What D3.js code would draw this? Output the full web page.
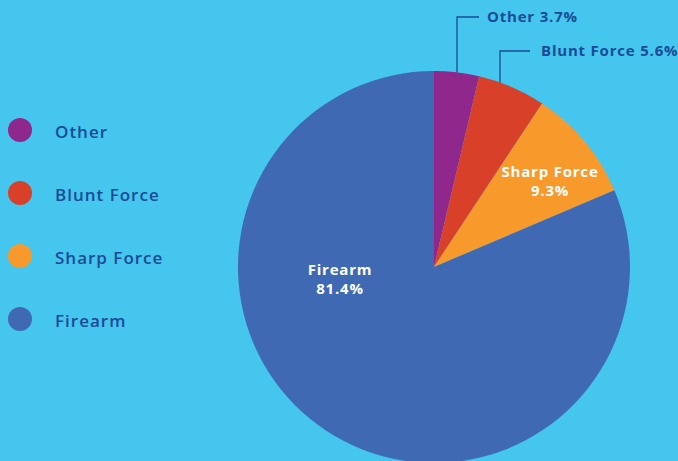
<!DOCTYPE html>
<html>
<head>
<meta charset="utf-8">
<script src="https://cdn.jsdelivr.net/npm/d3@7"></script>
<style>
  body { margin: 0; background: #44c6ef; }
  svg { display: block; font-family: "Open Sans", "DejaVu Sans", sans-serif; }
</style>
</head>
<body>
<svg id="chart" width="678" height="461"></svg>
<script>
// chart values
var categories = ["Other", "Blunt Force", "Sharp Force", "Firearm"];
var values = [3.7, 5.6, 9.3, 81.4];
var colors = ["#90278c", "#d9402a", "#f7992b", "#4069b3"];

var width = 678, height = 461;
var cx = 434, cy = 267, radius = 196;
var navy = "#1b4b94";

var svg = d3.select("#chart");

svg.append("rect")
  .attr("width", width)
  .attr("height", height)
  .attr("fill", "#44c6ef");

var data = categories.map(function(c, i) {
  return { name: c, value: values[i], color: colors[i] };
});

// pie goes clockwise from 12 o'clock, in data order
var pie = d3.pie()
  .value(function(d) { return d.value; })
  .sort(null);

var arc = d3.arc().innerRadius(0).outerRadius(radius);

var arcs = pie(data);

var g = svg.append("g").attr("transform", "translate(" + cx + "," + cy + ")");

g.selectAll("path")
  .data(arcs)
  .enter().append("path")
  .attr("d", arc)
  .attr("fill", function(d) { return d.data.color; });

// labels inside the big slices (offsets from the centre)
var inside = { "Sharp Force": [116, -90.5], "Firearm": [-94, 7.5] };
arcs.forEach(function(a) {
  var pos = inside[a.data.name];
  if (!pos) return;
  var t = g.append("text")
    .attr("text-anchor", "middle")
    .attr("fill", "#ffffff")
    .style("font-weight", 700)
    .style("font-size", "15px")
    .style("letter-spacing", "0.8px");
  t.append("tspan").attr("x", pos[0]).attr("y", pos[1]).text(a.data.name);
  t.append("tspan").attr("x", pos[0]).attr("y", pos[1] + 19).text(a.data.value.toFixed(1) + "%");
});

// callout labels for the thin slices
var callouts = {
  "Other": { x: 23, top: -250, len: 22, gap: 8 },
  "Blunt Force": { x: 66, top: -216, len: 30, gap: 11 }
};
arcs.forEach(function(a) {
  var c = callouts[a.data.name];
  if (!c) return;
  // vertical line starts on the arc edge
  var edgeY = -Math.sqrt(radius * radius - c.x * c.x);
  g.append("polyline")
    .attr("points", [[c.x, edgeY], [c.x, c.top], [c.x + c.len, c.top]].map(function(p) { return p.join(","); }).join(" "))
    .attr("fill", "none")
    .attr("stroke", navy)
    .attr("stroke-width", 1.3);
  g.append("text")
    .attr("x", c.x + c.len + c.gap)
    .attr("y", c.top)
    .attr("dy", "0.35em")
    .attr("fill", navy)
    .style("font-weight", 700)
    .style("font-size", "15px")
    .style("letter-spacing", "0.8px")
    .text(a.data.name + " " + a.data.value.toFixed(1) + "%");
});

// legend on the left
var legendY = d3.scalePoint()
  .domain(categories)
  .range([130, 319]);

var legend = svg.selectAll(".legend")
  .data(data)
  .enter().append("g")
  .attr("class", "legend")
  .attr("transform", function(d) { return "translate(0," + legendY(d.name) + ")"; });

legend.append("circle")
  .attr("cx", 20)
  .attr("cy", 0)
  .attr("r", 12)
  .attr("fill", function(d) { return d.color; });

legend.append("text")
  .attr("x", 55)
  .attr("y", 2)
  .attr("dy", "0.35em")
  .attr("fill", navy)
  .style("font-weight", 600)
  .style("font-size", "17px")
  .style("letter-spacing", "1px")
  .text(function(d) { return d.name; });
</script>
</body>
</html>
